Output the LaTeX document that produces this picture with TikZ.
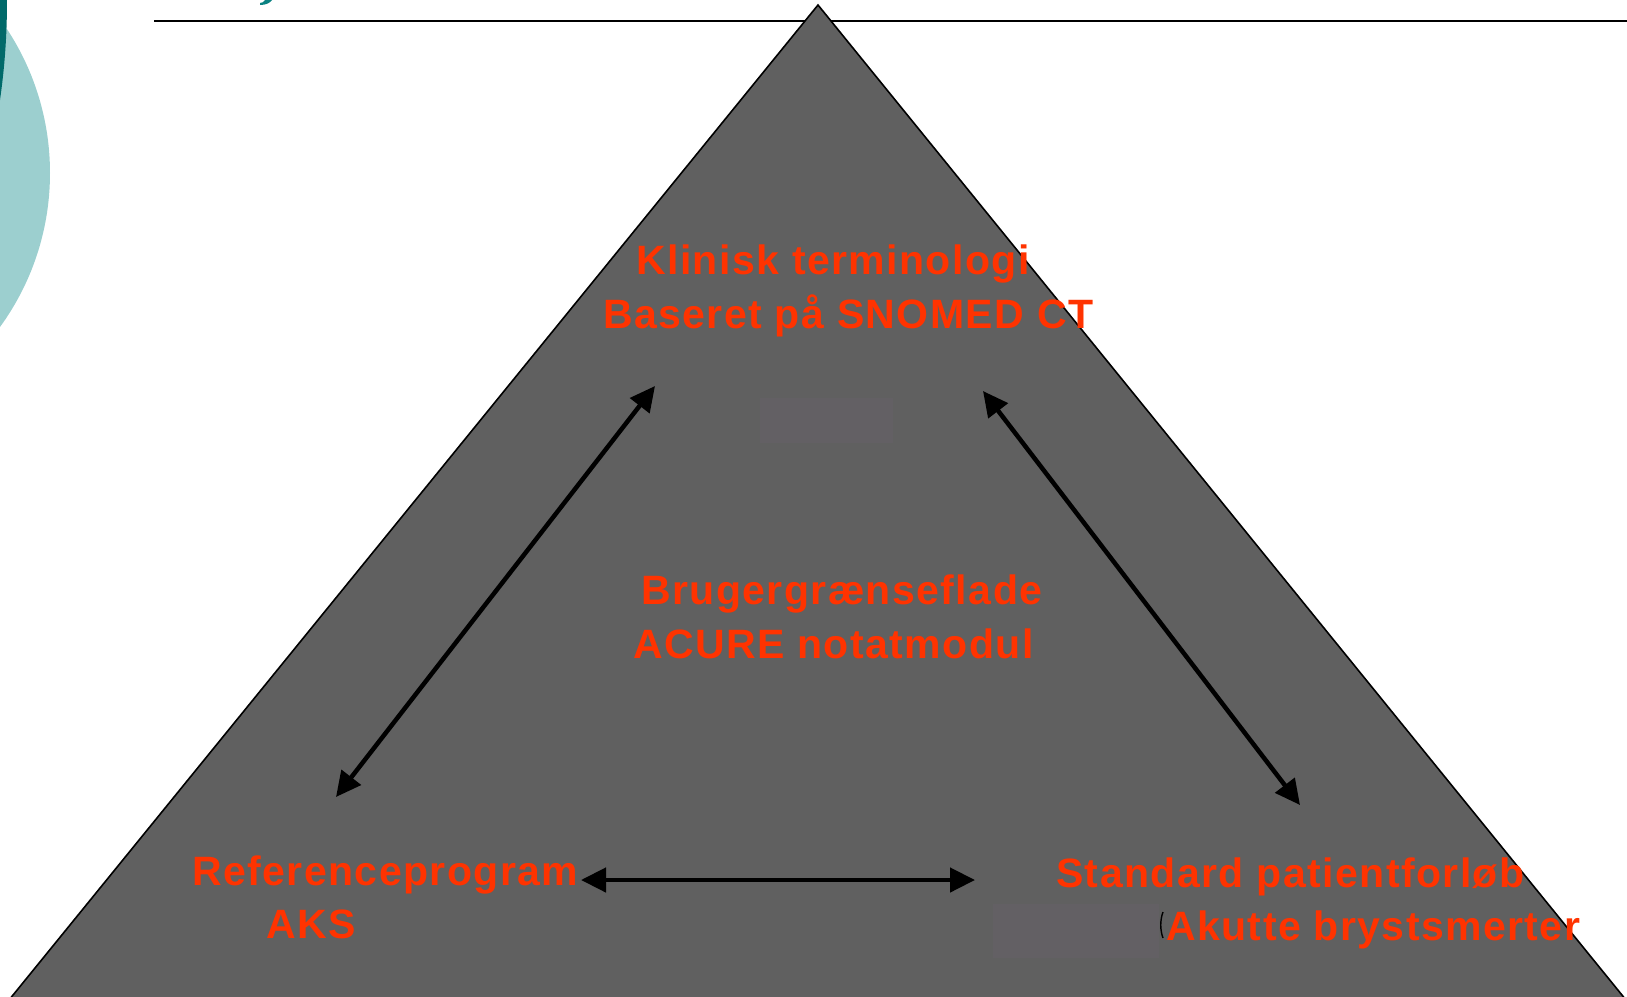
\documentclass[tikz,border=0pt]{standalone}
\usepackage{fontspec}
\newfontfamily\labfont{Liberation Sans}[LetterSpace=3.5]
\usetikzlibrary{arrows.meta}
\definecolor{trigray}{HTML}{606060}
\definecolor{labred}{HTML}{FF3300}
\definecolor{tealL}{HTML}{9CCFCF}
\definecolor{tealD}{HTML}{006A6A}
\definecolor{tealT}{HTML}{0A8282}
\definecolor{dotrect}{HTML}{636064}
\tikzset{
  lab/.style={anchor=base west, inner sep=0pt, text=labred,
    font=\labfont\bfseries\fontsize{41}{50}\selectfont},
  biarrow/.style={line width=4.5pt, black,
    {Triangle[length=25pt,width=24pt]}-{Triangle[length=25pt,width=24pt]}},
  dotbox/.style={fill=dotrect, draw=none}
}
\begin{document}
\begin{tikzpicture}[x=1pt,y=-1pt]
\useasboundingbox (0,0) rectangle (1627,996);
\clip (0,0) rectangle (1627,996);
% background decoration
\fill[tealL] (-212,173) circle (262);
\fill[tealD] (0,0) -- (7,0) .. controls (7,40) and (4,72) .. (0,100) -- cycle;
\fill[tealT] (260,5) .. controls (266,5) and (270,3) .. (272,0) -- (265,0) .. controls (264,2) and (262,3) .. (260,3) -- cycle;
\draw[line width=2.5pt] (154,21) -- (1627,21);
% triangle
\filldraw[fill=trigray, draw=black, line width=1.6pt] (818,5) -- (1626,1000) -- (9,1000) -- cycle;
% dotted boxes
\fill[dotbox] (760,398) rectangle (893,443);
\fill[dotbox] (993,904) rectangle (1159,958);
\draw[line width=1.4pt] (1163,912) .. controls (1160,920) and (1160,930) .. (1163,938);
% labels
\node[lab] (kt1) at (636,274) {Klinisk terminologi};
\node[lab] (kt2) at (603,328) {Baseret på SNOMED CT};
\node[lab] (bg1) at (641,604) {Brugergrænseflade};
\node[lab] (bg2) at (633,658) {ACURE notatmodul};
\node[lab] (rp1) at (192,885) {Referenceprogram};
\node[lab] (rp2) at (266,938) {AKS};
\node[lab] (sp1) at (1056,887) {Standard patientforløb};
\node[lab] (sp2) at (1166,940) {Akutte brystsmerter};
% connector ends
\coordinate (ktL) at (655,386);
\coordinate (ktR) at (983,391);
\coordinate (rpT) at (336,797);
\coordinate (rpR) at (581,880);
\coordinate (spL) at (975,880);
\coordinate (spT) at (1300,805);
\draw[biarrow] (ktL) -- (rpT);
\draw[biarrow] (ktR) -- (spT);
\draw[biarrow] (rpR) -- (spL);
\end{tikzpicture}
\end{document}
